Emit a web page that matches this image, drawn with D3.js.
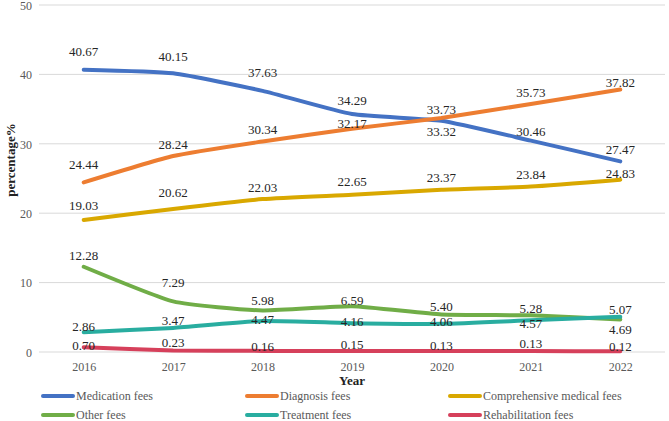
<!DOCTYPE html>
<html>
<head>
<meta charset="utf-8">
<script src="https://cdn.jsdelivr.net/npm/d3@7/dist/d3.min.js"></script>
<style>
  html, body { margin: 0; padding: 0; background: #fff; }
  svg { display: block; font-family: "Liberation Serif", "Times New Roman", Times, Tinos, "DejaVu Serif", "Noto Serif", serif; }
</style>
</head>
<body>
<svg id="chart" width="669" height="421"></svg>
<script>
// ---------- data ----------
const years = ["2016", "2017", "2018", "2019", "2020", "2021", "2022"];
const medicationFees    = [40.67, 40.15, 37.63, 34.29, 33.32, 30.46, 27.47];
const diagnosisFees     = [24.44, 28.24, 30.34, 32.17, 33.73, 35.73, 37.82];
const comprehensiveFees = [19.03, 20.62, 22.03, 22.65, 23.37, 23.84, 24.83];
const otherFees         = [12.28, 7.29, 5.98, 6.59, 5.40, 5.28, 4.69];
const treatmentFees     = [2.86, 3.47, 4.47, 4.16, 4.06, 4.57, 5.07];
const rehabilitationFees= [0.70, 0.23, 0.16, 0.15, 0.13, 0.13, 0.12];
const seriesNames = ["Medication fees", "Diagnosis fees", "Comprehensive medical fees",
                     "Other fees", "Treatment fees", "Rehabilitation fees"];
const yTicks = [0, 10, 20, 30, 40, 50];
const xTitle = "Year";
const yTitle = "percentage%";

// ---------- styles / layout ----------
const colors = ["#4472C4", "#ED7D31", "#D9A800", "#70AD47", "#29ADA0", "#D6405B"];
// vertical nudge of each data label centre relative to its point (px)
const labelNudge = [
  [-18, -17, -18, -14, 11, -9, -12],
  [-18, -12, -12, -5, -8, -12, -7],
  [-14, -16, -12, -13, -12, -12, -6],
  [-11, -19, -10, -6, -8, -7, 10],
  [-6, -7, -1, -2, -2, 3, -7],
  [-2, -8, -4, -6, -6, -8, -5]
];

const seriesValues = [medicationFees, diagnosisFees, comprehensiveFees,
                      otherFees, treatmentFees, rehabilitationFees];
const series = seriesNames.map((name, i) => ({
  name, color: colors[i],
  values: years.map((y, j) => ({ year: y, value: seriesValues[i][j] }))
}));

const svg = d3.select("#chart");
const plotLeft = 39, plotRight = 665, plotTop = 5, plotBottom = 352;

const x = d3.scalePoint().domain(years).range([plotLeft, plotRight]).padding(0.5);
const y = d3.scaleLinear().domain([0, 50]).range([plotBottom, plotTop]);

// gridlines
svg.append("g").selectAll("line").data(yTicks).join("line")
  .attr("x1", plotLeft).attr("x2", plotRight)
  .attr("y1", d => y(d)).attr("y2", d => y(d))
  .attr("stroke", "#d9d9d9").attr("stroke-width", 1);

// y axis (labels only)
const yAxis = d3.axisLeft(y).tickValues(yTicks).tickSize(0).tickPadding(0).tickFormat(d3.format("d"));
const gy = svg.append("g").attr("transform", `translate(${plotLeft - 7},0)`).call(yAxis);
gy.select(".domain").remove();
gy.selectAll("text").attr("font-size", 12).attr("fill", "#595959")
  .attr("font-family", null).attr("dy", "0.35em");

// x axis (labels only)
const xAxis = d3.axisBottom(x).tickSize(0).tickPadding(0);
const gx = svg.append("g").attr("transform", `translate(0,${plotBottom + 15})`).call(xAxis);
gx.select(".domain").remove();
gx.selectAll("text").attr("font-size", 12).attr("fill", "#595959")
  .attr("font-family", null).attr("dy", "0.35em");
gy.attr("font-family", null); gx.attr("font-family", null);

// axis titles
svg.append("text").attr("x", (plotLeft + plotRight) / 2).attr("y", 380)
  .attr("text-anchor", "middle").attr("dominant-baseline", "central")
  .attr("font-size", 13).attr("font-weight", "bold").attr("fill", "#222")
  .text(xTitle);
svg.append("text").attr("transform", "translate(10,160) rotate(-90)")
  .attr("text-anchor", "middle").attr("dominant-baseline", "central")
  .attr("font-size", 13).attr("font-weight", "bold").attr("fill", "#222")
  .text(yTitle);

// lines
const line = d3.line().x(d => x(d.year)).y(d => y(d.value))
  .curve(d3.curveCardinal.tension(0.5));
svg.append("g").selectAll("path").data(series).join("path")
  .attr("d", d => line(d.values))
  .attr("fill", "none").attr("stroke", d => d.color)
  .attr("stroke-width", 4).attr("stroke-linecap", "round").attr("stroke-linejoin", "round");

// data labels
series.forEach((s, i) => {
  svg.append("g").selectAll("text").data(s.values).join("text")
    .attr("x", d => x(d.year))
    .attr("y", (d, j) => y(d.value) + labelNudge[i][j])
    .attr("text-anchor", "middle").attr("dominant-baseline", "central")
    .attr("font-size", 13).attr("fill", "#262626")
    .text(d => d3.format(".2f")(d.value));
});

// legend
const legendCols = [43, 247, 450];
const legendRows = [396, 415];
const lg = svg.append("g").selectAll("g").data(series).join("g")
  .attr("transform", (d, i) => `translate(${legendCols[i % 3]},${legendRows[Math.floor(i / 3)]})`);
lg.append("line").attr("x1", 0).attr("x2", 30).attr("y1", 0).attr("y2", 0)
  .attr("stroke", d => d.color).attr("stroke-width", 4).attr("stroke-linecap", "round");
lg.append("text").attr("x", 33).attr("y", 0).attr("dominant-baseline", "central")
  .attr("font-size", 12).attr("fill", "#595959").text(d => d.name);
</script>
</body>
</html>
